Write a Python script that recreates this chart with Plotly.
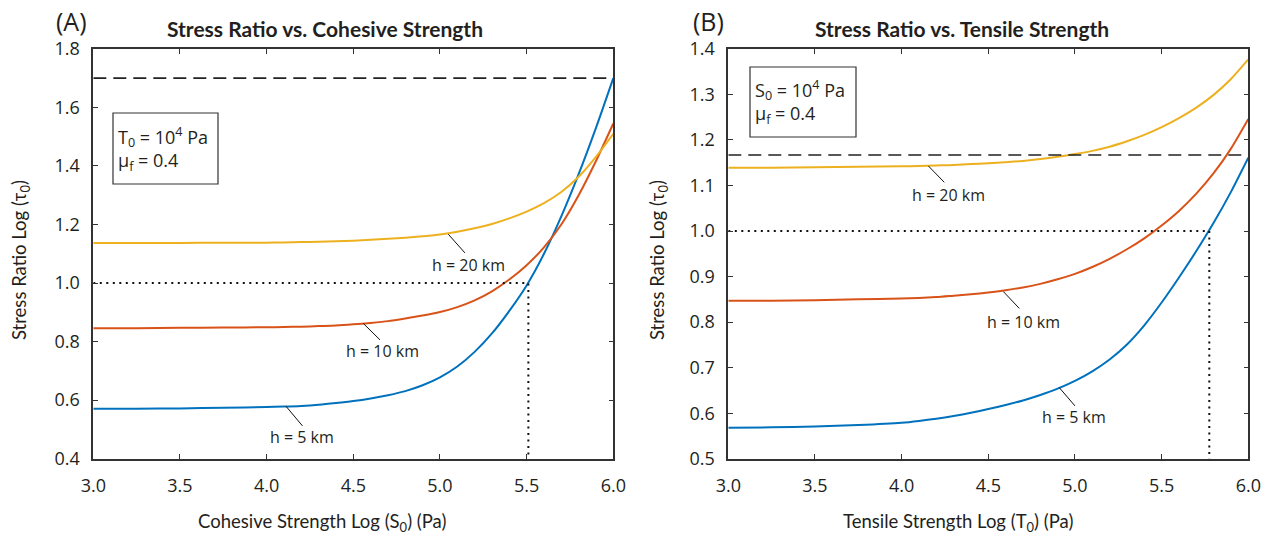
import plotly.graph_objects as go

# ---- data -------------------------------------------------------------
log_strength = [3.0, 3.25, 3.5, 3.75, 4.0, 4.1, 4.2, 4.3, 4.4, 4.5, 4.6, 4.7, 4.8,
                4.9, 5.0, 5.1, 5.2, 5.3, 5.4, 5.5, 5.6, 5.7, 5.8, 5.9, 6.0]

# (A) stress ratio vs cohesive strength, T0 = 1e4 Pa, mu_f = 0.4
cohesive_h5 = [0.571, 0.571, 0.572, 0.574, 0.577, 0.578, 0.580, 0.584, 0.590, 0.597,
               0.606, 0.617, 0.631, 0.651, 0.678, 0.715, 0.765, 0.828, 0.905, 0.992,
               1.100, 1.228, 1.372, 1.530, 1.700]
cohesive_h10 = [0.846, 0.846, 0.847, 0.848, 0.849, 0.850, 0.851, 0.853, 0.855, 0.859,
                0.864, 0.870, 0.879, 0.889, 0.901, 0.918, 0.941, 0.972, 1.012, 1.061,
                1.122, 1.200, 1.300, 1.417, 1.545]
cohesive_h20 = [1.137, 1.137, 1.137, 1.138, 1.138, 1.139, 1.140, 1.141, 1.143, 1.145,
                1.148, 1.151, 1.155, 1.160, 1.166, 1.175, 1.187, 1.202, 1.221, 1.244,
                1.273, 1.311, 1.363, 1.431, 1.510]

# (B) stress ratio vs tensile strength, S0 = 1e4 Pa, mu_f = 0.4
tensile_h5 = [0.568, 0.569, 0.571, 0.574, 0.579, 0.583, 0.588, 0.594, 0.601, 0.609,
              0.618, 0.628, 0.640, 0.654, 0.671, 0.692, 0.718, 0.751, 0.793, 0.843,
              0.898, 0.956, 1.018, 1.086, 1.161]
tensile_h10 = [0.847, 0.847, 0.848, 0.850, 0.852, 0.853, 0.855, 0.858, 0.861, 0.865,
               0.870, 0.876, 0.884, 0.894, 0.906, 0.921, 0.939, 0.960, 0.984, 1.012,
               1.044, 1.082, 1.127, 1.181, 1.246]
tensile_h20 = [1.139, 1.139, 1.140, 1.141, 1.142, 1.143, 1.144, 1.145, 1.147, 1.149,
               1.151, 1.154, 1.158, 1.163, 1.169, 1.176, 1.185, 1.197, 1.211, 1.228,
               1.248, 1.271, 1.299, 1.334, 1.377]

depth_labels = ["h = 5 km", "h = 10 km", "h = 20 km"]

cohesive_limit = 1.70      # dashed upper bound, panel A
tensile_limit = 1.167      # dashed upper bound, panel B
unit_ratio = 1.0           # dotted reference level
cohesive_cross = 5.51      # where h = 5 km reaches the unit ratio, panel A
tensile_cross = 5.775      # where h = 5 km reaches the unit ratio, panel B

x_ticks = [3.0, 3.5, 4.0, 4.5, 5.0, 5.5, 6.0]
a_y_ticks = [0.4, 0.6, 0.8, 1.0, 1.2, 1.4, 1.6, 1.8]
b_y_ticks = [0.5, 0.6, 0.7, 0.8, 0.9, 1.0, 1.1, 1.2, 1.3, 1.4]

# ---- styling ----------------------------------------------------------
W, H = 1276, 540
BLUE, RED, YELLOW = "#0072BD", "#D95319", "#EDB120"
AXIS = "#333333"
INK = "#231f20"
NARROW = "Lato, Liberation Sans, sans-serif"
BODY = "Open Sans, Noto Sans, sans-serif"


def px(x):
    return x / W


def py(y):
    return 1 - y / H


fig = go.Figure()

panels = [
    ("x", "y", [cohesive_h5, cohesive_h10, cohesive_h20]),
    ("x2", "y2", [tensile_h5, tensile_h10, tensile_h20]),
]
for xa, ya, series in panels:
    for vals, color, name in zip(series, [BLUE, RED, YELLOW], depth_labels):
        fig.add_trace(go.Scatter(
            x=log_strength, y=vals, mode="lines", name=name,
            line=dict(color=color, width=2, shape="spline", smoothing=0.7),
            xaxis=xa, yaxis=ya, showlegend=False, hoverinfo="skip"))

# reference lines
dash = dict(color="#222222", width=1.6, dash="13px,7px")
dot = dict(color="#111111", width=2, dash="2px,4.5px")
for xa, ya, limit, cross, ymin in [("x", "y", cohesive_limit, cohesive_cross, a_y_ticks[0]),
                                   ("x2", "y2", tensile_limit, tensile_cross, b_y_ticks[0])]:
    fig.add_trace(go.Scatter(x=[x_ticks[0], x_ticks[-1]], y=[limit, limit], mode="lines",
                             line=dash, xaxis=xa, yaxis=ya, showlegend=False, hoverinfo="skip"))
    fig.add_trace(go.Scatter(x=[x_ticks[0], cross, cross], y=[unit_ratio, unit_ratio, ymin],
                             mode="lines", line=dot, xaxis=xa, yaxis=ya,
                             showlegend=False, hoverinfo="skip"))

axis_common = dict(
    showline=True, linecolor=AXIS, linewidth=1.6, mirror="ticks",
    ticks="inside", ticklen=5, tickwidth=1.2, tickcolor=AXIS,
    showgrid=False, zeroline=False, automargin=False,
    tickfont=dict(family=BODY, size=18, color=INK),
    tickformat=".1f",
)
ydom = [0.1505, 0.9095]
fig.update_layout(
    template="none",
    width=W, height=H,
    margin=dict(l=0, r=0, t=0, b=0, autoexpand=False),
    paper_bgcolor="white", plot_bgcolor="white",
    xaxis=dict(domain=[px(93.3), px(613.3)], range=[3, 6], tickvals=x_ticks,
               ticklabelstandoff=10, anchor="y", **axis_common),
    yaxis=dict(domain=ydom, range=[0.4, 1.8], tickvals=a_y_ticks,
               ticklabelstandoff=8, anchor="x", **axis_common),
    xaxis2=dict(domain=[px(728.3), px(1248.3)], range=[3, 6], tickvals=x_ticks,
                ticklabelstandoff=10, anchor="y2", **axis_common),
    yaxis2=dict(domain=ydom, range=[0.5, 1.4], tickvals=b_y_ticks,
                ticklabelstandoff=8, anchor="x2", **axis_common),
)

ann = []


def text(x, y, s, size, family=BODY, xanchor="center", **kw):
    ann.append(dict(x=x, y=y, xref="paper", yref="paper", text=s, showarrow=False,
                    xanchor=xanchor, yanchor="middle",
                    font=dict(family=family, size=size, color=INK), **kw))


# panel letters and titles
text(px(71), py(21), "(A)", 25)
text(px(708), py(21), "(B)", 25)
text(px(325), py(29), "<b>Stress Ratio vs. Cohesive Strength</b>", 21, NARROW)
text(px(962), py(29), "<b>Stress Ratio vs. Tensile Strength</b>", 21, NARROW)

# axis titles
text(px(322.5), py(522), "Cohesive Strength Log (S<sub>0</sub>) (Pa)", 18.5, NARROW)
text(px(958), py(522), "Tensile Strength Log (T<sub>0</sub>) (Pa)", 18.5, NARROW)
text(px(21), py(260), "Stress Ratio Log (τ<sub>0</sub>)", 18.5, NARROW, textangle=-90)
text(px(659), py(260), "Stress Ratio Log (τ<sub>0</sub>)", 18.5, NARROW, textangle=-90)

# parameter boxes
shapes = []
for (x0, y0, x1, y1) in [(113, 113, 218, 184), (750, 67, 856, 137)]:
    shapes.append(dict(type="rect", xref="paper", yref="paper",
                       x0=px(x0), x1=px(x1), y0=py(y0), y1=py(y1),
                       line=dict(color=AXIS, width=1.2), fillcolor="white", layer="above"))
text(px(116), py(149), "T<sub>0</sub> = 10<sup>4</sup> Pa<br>μ<sub>f</sub> = 0.4", 18,
     xanchor="left", align="left")
text(px(753), py(102), "S<sub>0</sub> = 10<sup>4</sup> Pa<br>μ<sub>f</sub> = 0.4", 18,
     xanchor="left", align="left")

# curve labels with leader lines (data coordinates)
labels = [
    ("x", "y", depth_labels[2], (5.048, 1.167), (5.144, 1.103), (5.166, 1.063)),
    ("x", "y", depth_labels[1], (4.558, 0.862), (4.654, 0.806), (4.671, 0.769)),
    ("x", "y", depth_labels[0], (4.112, 0.579), (4.207, 0.512), (4.204, 0.473)),
    ("x2", "y2", depth_labels[2], (4.154, 1.143), (4.246, 1.107), (4.268, 1.080)),
    ("x2", "y2", depth_labels[1], (4.587, 0.867), (4.679, 0.830), (4.705, 0.801)),
    ("x2", "y2", depth_labels[0], (4.910, 0.656), (5.000, 0.616), (4.995, 0.591)),
]
for xa, ya, s, p0, p1, pt in labels:
    shapes.append(dict(type="line", xref=xa, yref=ya, x0=p0[0], y0=p0[1], x1=p1[0], y1=p1[1],
                       line=dict(color="#111111", width=1)))
    ann.append(dict(x=pt[0], y=pt[1], xref=xa, yref=ya, text=s, showarrow=False,
                    xanchor="center", yanchor="middle",
                    font=dict(family=BODY, size=16, color=INK)))

fig.update_layout(annotations=ann, shapes=shapes)
fig.write_html("out.html")
